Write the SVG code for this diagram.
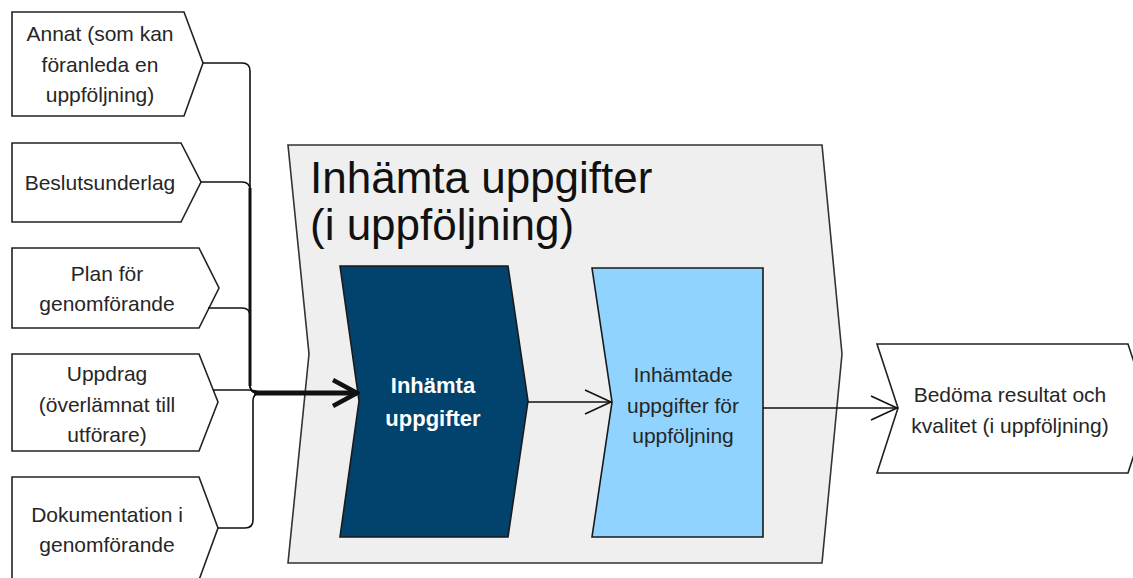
<svg xmlns="http://www.w3.org/2000/svg" width="1133" height="578" viewBox="0 0 1133 578">
<defs>
<style>
.inp{fill:#ffffff;stroke:#222;stroke-width:1.6}
.t{font-family:"Liberation Sans",Arial,sans-serif;font-size:21px;fill:#262626;text-anchor:middle}
.tb{font-family:"Liberation Sans",Arial,sans-serif;font-size:22px;font-weight:bold;fill:#ffffff;text-anchor:middle}
.title{font-family:"Liberation Sans",Arial,sans-serif;font-size:44px;fill:#111}
.c{fill:none;stroke:#111;stroke-width:1.6}
</style>
<marker id="ah" markerUnits="userSpaceOnUse" viewBox="0 0 30 28" markerWidth="30" markerHeight="28" refX="28" refY="14" orient="auto">
<path d="M2,2 L28,14 L2,26" fill="none" stroke="#111" stroke-width="1.6"/>
</marker>
<marker id="ahb" markerUnits="userSpaceOnUse" viewBox="0 0 30 32" markerWidth="30" markerHeight="32" refX="27" refY="16" orient="auto">
<path d="M3,3 L27,16 L3,29" fill="none" stroke="#111" stroke-width="4.5"/>
</marker>
</defs>
<rect width="1133" height="578" fill="#ffffff"/>

<g id="container">
<polygon points="288,145 822,145 842,354 822,563 288,563 309,354" fill="#efefef" stroke="#333" stroke-width="1.6"/>
<text class="title" x="310" y="193">Inhämta uppgifter</text>
<text class="title" x="310" y="240">(i uppföljning)</text>
</g>

<g id="n-annat">
<polygon class="inp" points="12,12 184,12 203,63 184,116 12,116"/>
<text class="t" x="100" y="41">Annat (som kan</text>
<text class="t" x="100" y="72">föranleda en</text>
<text class="t" x="100" y="102">uppföljning)</text>
</g>
<g id="n-beslut">
<polygon class="inp" points="12,143 181,143 201,182 181,222 12,222"/>
<text class="t" x="100" y="190">Beslutsunderlag</text>
</g>
<g id="n-plan">
<polygon class="inp" points="12,248 199,248 219,288 199,328 12,328"/>
<text class="t" x="107" y="281">Plan för</text>
<text class="t" x="107" y="311">genomförande</text>
</g>
<g id="n-uppdrag">
<polygon class="inp" points="12,354 199,354 218,402 199,451 12,451"/>
<text class="t" x="107" y="381">Uppdrag</text>
<text class="t" x="107" y="412">(överlämnat till</text>
<text class="t" x="107" y="442">utförare)</text>
</g>
<g id="n-dok">
<polygon class="inp" points="12,477 199,477 218,528 199,580 12,580"/>
<text class="t" x="107" y="522">Dokumentation i</text>
<text class="t" x="107" y="552">genomförande</text>
</g>

<g id="n-inhamta">
<polygon points="340,266 508,266 528,401 508,537 340,537 359,401" fill="#02436e" stroke="#1a1a1a" stroke-width="1.6"/>
<text class="tb" x="433" y="393">Inhämta</text>
<text class="tb" x="433" y="426">uppgifter</text>
</g>

<g id="n-inhamtade">
<polygon points="592,268 763,268 763,537 592,537 612,402" fill="#8fd3fe" stroke="#1a1a1a" stroke-width="1.6"/>
<text class="t" x="683" y="382">Inhämtade</text>
<text class="t" x="683" y="413">uppgifter för</text>
<text class="t" x="683" y="443">uppföljning</text>
</g>

<g id="n-bedoma">
<polygon class="inp" points="877,344 1128,344 1149,408 1128,473 877,473 898,408"/>
<text class="t" x="1010" y="402">Bedöma resultat och</text>
<text class="t" x="1010" y="433">kvalitet (i uppföljning)</text>
</g>

<g id="connectors">
<path class="c" d="M203,63 H242 Q250,63 250,71 V385 Q250,393 258,393"/>
<path class="c" d="M201,182 H242 Q250,182 250,190 V385 Q250,393 258,393"/>
<path class="c" d="M208,308 H242 Q250,308 250,316 V385 Q250,393 258,393"/>
<path class="c" d="M213,390 H248 Q255,390 260,393"/>
<path class="c" d="M218,528 H245 Q253,528 253,520 V401 Q253,393 261,393"/>
<path fill="none" stroke="#111" stroke-width="3" d="M250,188 V386"/>
<path fill="none" stroke="#111" stroke-width="5" d="M254,393 H357" marker-end="url(#ahb)"/>
<path class="c" d="M528,402 H611" marker-end="url(#ah)"/>
<path class="c" d="M763,408 H897" marker-end="url(#ah)"/>
</g>
</svg>
